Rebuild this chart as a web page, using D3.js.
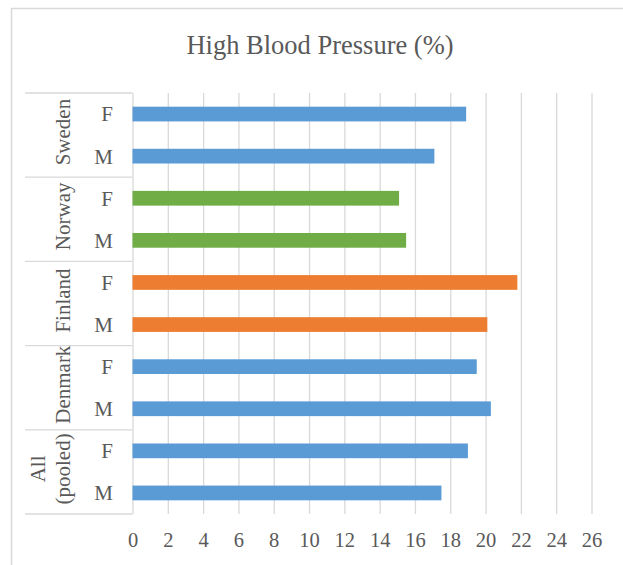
<!DOCTYPE html>
<html>
<head>
<meta charset="utf-8">
<script src="https://cdn.jsdelivr.net/npm/d3@7"></script>
<style>
  html, body { margin: 0; padding: 0; background: #fff; }
  svg { display: block; }
</style>
</head>
<body>
<script>
// ---- data ----
const countries = ["Sweden", "Norway", "Finland", "Denmark", "All (pooled)"];
const countryLines = [["Sweden"], ["Norway"], ["Finland"], ["Denmark"], ["All", "(pooled)"]];
const sexes = ["F", "M"];
const femaleValues = [18.9, 15.1, 21.8, 19.5, 19.0];
const maleValues   = [17.1, 15.5, 20.1, 20.3, 17.5];
const countryColors = ["#5B9BD5", "#70AD47", "#ED7D31", "#5B9BD5", "#5B9BD5"];
const xTicks = [0, 2, 4, 6, 8, 10, 12, 14, 16, 18, 20, 22, 24, 26];
const title = "High Blood Pressure (%)";

// ---- build rows ----
const rows = [];
countries.forEach((c, i) => {
  rows.push({ key: c + "|F", country: c, sex: "F", value: femaleValues[i], color: countryColors[i] });
  rows.push({ key: c + "|M", country: c, sex: "M", value: maleValues[i], color: countryColors[i] });
});

const W = 623, H = 565;
const textColor = "#595959";
const gridColor = "#d9d9d9";
const font = "'Liberation Serif', 'Times New Roman', serif";

const svg = d3.select("body").append("svg").attr("width", W).attr("height", H);

// outer chart border (extends past the picture on the right and bottom)
svg.append("rect")
  .attr("x", 11.5).attr("y", 8.5)
  .attr("width", W + 20).attr("height", H + 20)
  .attr("fill", "#fff").attr("stroke", gridColor).attr("stroke-width", 1.5);

const plotTop = 93, plotBottom = 514, plotLeft = 132.5, plotRight = 591.5;
const catLeft = 25;

const x = d3.scaleLinear().domain([0, 26]).range([plotLeft, plotRight]);
const y = d3.scaleBand().domain(rows.map(d => d.key)).range([plotTop, plotBottom])
  .paddingInner(0.65).paddingOuter(0.325);
const yc = d3.scaleBand().domain(countries).range([plotTop, plotBottom]).padding(0);

// title
svg.append("text")
  .attr("x", 320).attr("y", 54)
  .attr("text-anchor", "middle")
  .attr("font-family", font).attr("font-size", 26.5)
  .attr("fill", textColor)
  .text(title);

// gridlines + x tick labels via axis
const xAxis = d3.axisBottom(x).tickValues(xTicks).tickSize(-(plotBottom - plotTop)).tickPadding(18);
const gx = svg.append("g").attr("transform", `translate(0,${plotBottom})`).call(xAxis);
gx.select(".domain").remove();
gx.selectAll(".tick line").attr("stroke", gridColor).attr("stroke-width", 1.3);
gx.selectAll(".tick text")
  .attr("font-family", font).attr("font-size", 20.5).attr("fill", textColor);

// bars
svg.append("g").selectAll("rect").data(rows).join("rect")
  .attr("x", x(0))
  .attr("y", d => y(d.key))
  .attr("width", d => x(d.value) - x(0))
  .attr("height", y.bandwidth())
  .attr("fill", d => d.color);

// category axis (multi-level)
const cat = svg.append("g");
const bounds = countries.map(c => yc(c)).concat([plotBottom]);
cat.selectAll("line.sep").data(bounds).join("line")
  .attr("class", "sep")
  .attr("x1", catLeft).attr("x2", plotLeft)
  .attr("y1", d => d).attr("y2", d => d)
  .attr("stroke", gridColor).attr("stroke-width", 1.3);

// sex labels
cat.selectAll("text.sex").data(rows).join("text")
  .attr("class", "sex")
  .attr("x", 113)
  .attr("y", d => y(d.key) + y.bandwidth() / 2)
  .attr("dy", "0.35em")
  .attr("text-anchor", "end")
  .attr("font-family", font).attr("font-size", 21).attr("fill", textColor)
  .text(d => d.sex);

// country labels (rotated)
countries.forEach((c, i) => {
  const lines = countryLines[i];
  const cy = yc(c) + yc.bandwidth() / 2 - 3;
  const baseX = 63;
  const lh = 25;
  lines.forEach((ln, j) => {
    const lx = baseX - (lines.length - 1 - j) * lh;
    cat.append("text")
      .attr("transform", `translate(${lx},${cy}) rotate(-90)`)
      .attr("text-anchor", "middle")
      .attr("dy", "0.35em")
      .attr("font-family", font).attr("font-size", 21).attr("fill", textColor)
      .text(ln);
  });
});
</script>
</body>
</html>
